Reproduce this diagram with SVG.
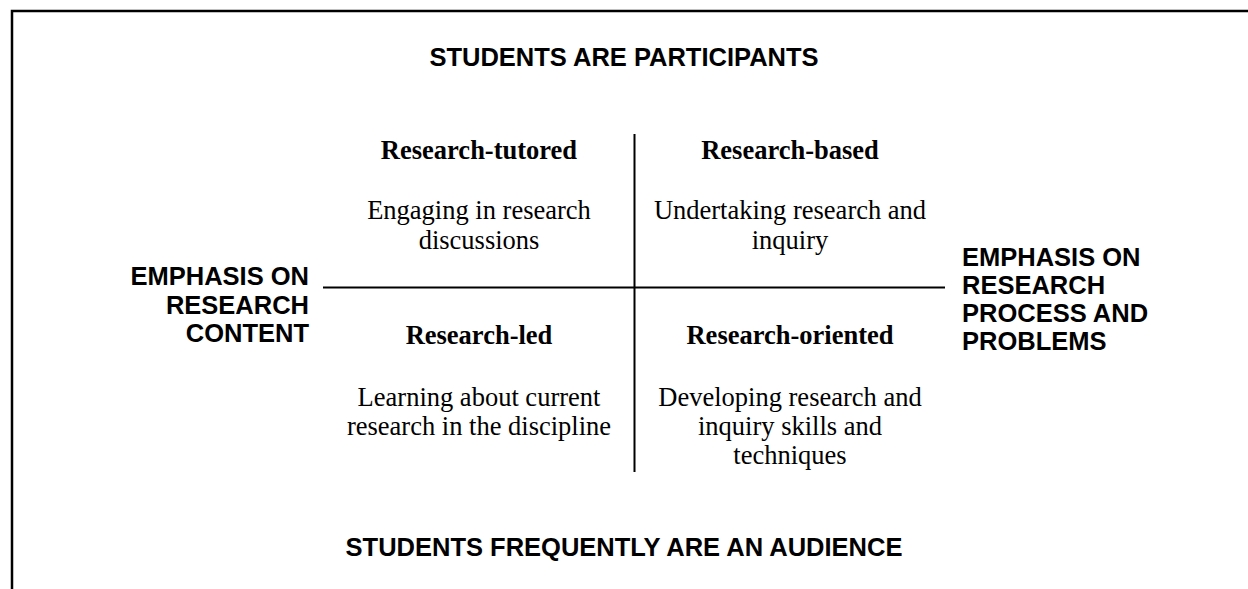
<svg xmlns="http://www.w3.org/2000/svg" width="1248" height="589" viewBox="0 0 1248 589">
<style>
.frame{fill:none;stroke:#000;stroke-width:2.5}
.axis{stroke:#000;stroke-width:2;fill:none}
.sans{font-family:"Liberation Sans",Arial,sans-serif;font-weight:bold;font-size:25.5px;fill:#000}
.head{font-family:"Liberation Serif","Times New Roman",serif;font-weight:bold;font-size:26.5px;fill:#000;text-anchor:middle}
.body{font-family:"Liberation Serif","Times New Roman",serif;font-size:26.5px;fill:#000;text-anchor:middle}
</style>
<rect width="1248" height="589" fill="#fff"/>
<path class="frame" d="M12 589 V11 H1248"/>
<g id="connectors">
<line class="axis" x1="323" y1="287.5" x2="945" y2="287.5"/>
<line class="axis" x1="634.5" y1="134" x2="634.5" y2="472"/>
</g>
<g id="top-label"><text class="sans" x="624" y="66" text-anchor="middle">STUDENTS ARE PARTICIPANTS</text></g>
<g id="bottom-label"><text class="sans" x="624" y="556" text-anchor="middle">STUDENTS FREQUENTLY ARE AN AUDIENCE</text></g>
<g id="left-label"><text class="sans" text-anchor="end"><tspan x="309" y="285">EMPHASIS ON</tspan><tspan x="309" y="314">RESEARCH</tspan><tspan x="309" y="342">CONTENT</tspan></text></g>
<g id="right-label"><text class="sans" text-anchor="start"><tspan x="962" y="266">EMPHASIS ON</tspan><tspan x="962" y="294">RESEARCH</tspan><tspan x="962" y="322">PROCESS AND</tspan><tspan x="962" y="350">PROBLEMS</tspan></text></g>
<g id="research-tutored">
<text class="head" x="479" y="159">Research-tutored</text>
<text class="body"><tspan x="479" y="219">Engaging in research</tspan><tspan x="479" y="249">discussions</tspan></text>
</g>
<g id="research-based">
<text class="head" x="790" y="159">Research-based</text>
<text class="body"><tspan x="790" y="219">Undertaking research and</tspan><tspan x="790" y="249">inquiry</tspan></text>
</g>
<g id="research-led">
<text class="head" x="479" y="344">Research-led</text>
<text class="body"><tspan x="479" y="406">Learning about current</tspan><tspan x="479" y="435">research in the discipline</tspan></text>
</g>
<g id="research-oriented">
<text class="head" x="790" y="344">Research-oriented</text>
<text class="body"><tspan x="790" y="406">Developing research and</tspan><tspan x="790" y="435">inquiry skills and</tspan><tspan x="790" y="464">techniques</tspan></text>
</g>
</svg>
